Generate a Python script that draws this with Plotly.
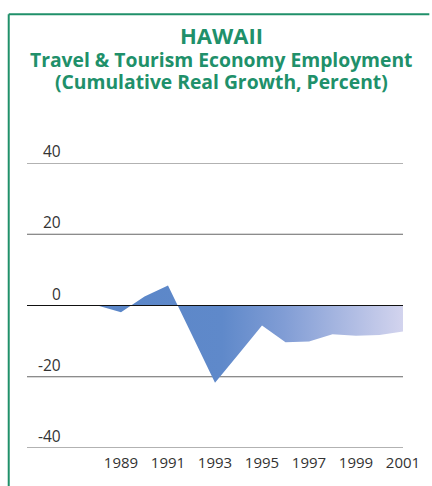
import plotly.graph_objects as go

# Cumulative real growth of travel & tourism economy employment, Hawaii (%)
years = [1988, 1989, 1990, 1991, 1992, 1993, 1994, 1995, 1996, 1997, 1998, 1999, 2000, 2001]
growth = [0.0, -1.9, 2.5, 5.6, -8.0, -21.7, -13.7, -5.6, -10.3, -10.1, -8.1, -8.5, -8.3, -7.3]

x_ticks = [1989, 1991, 1993, 1995, 1997, 1999, 2001]
y_ticks = [40, 20, 0, -20, -40]

GREEN = "#20906a"
TEXT = "#333333"
FONT = "Open Sans"

fig = go.Figure()

fig.add_trace(go.Scatter(
    x=years, y=growth,
    mode="lines",
    line=dict(width=0, color="#5b87c9"),
    fill="tozeroy",
    fillgradient=dict(
        type="horizontal",
        start=1988, stop=2001,
        colorscale=[[0.0, "#5a86c8"], [0.4, "#5f89ca"], [0.6, "#819dd5"], [1.0, "#d6d6ef"]],
    ),
    hoverinfo="skip",
    showlegend=False,
))

# horizontal reference lines
for v in y_ticks:
    fig.add_shape(type="line", xref="x", yref="y", x0=1985, x1=2001, y0=v, y1=v,
                  line=dict(color="#111111" if v == 0 else "#666666", width=1.2),
                  layer="below" if v != 0 else "above")

# value labels sitting above each reference line
for v in y_ticks:
    fig.add_annotation(x=1986.55, y=v, xref="x", yref="y", text=str(v),
                       showarrow=False, xanchor="right", yanchor="middle", yshift=12,
                       font=dict(family=FONT, size=15.5, color=TEXT))

# titles
fig.add_annotation(x=0.518, y=1.45, xref="paper", yref="paper", text="<b>HAWAII</b>",
                   showarrow=False, xanchor="center", yanchor="middle",
                   font=dict(family=FONT, size=22, color=GREEN))
fig.add_annotation(x=0.518, y=1.362, xref="paper", yref="paper",
                   text="<b>Travel & Tourism Economy Employment</b>",
                   showarrow=False, xanchor="center", yanchor="middle",
                   font=dict(family=FONT, size=19.3, color=GREEN))
fig.add_annotation(x=0.518, y=1.2855, xref="paper", yref="paper",
                   text="<b>(Cumulative Real Growth, Percent)</b>",
                   showarrow=False, xanchor="center", yanchor="middle",
                   font=dict(family=FONT, size=19.3, color=GREEN))

# frame on the left and top
fig.add_shape(type="line", xref="paper", yref="paper", x0=-0.0486, x1=1.07, y0=1.522, y1=1.522,
              line=dict(color=GREEN, width=2))
fig.add_shape(type="line", xref="paper", yref="paper", x0=-0.0486, x1=-0.0486, y0=1.522, y1=-0.14,
              line=dict(color=GREEN, width=2))

fig.update_layout(
    width=432, height=486,
    margin=dict(l=27, r=24, t=162.5, b=38),
    paper_bgcolor="white", plot_bgcolor="white",
    showlegend=False,
    xaxis=dict(range=[1985, 2001], tickvals=x_ticks, ticktext=[str(t) for t in x_ticks],
               showgrid=False, zeroline=False, showline=False, ticks="",
               tickfont=dict(family=FONT, size=15, color=TEXT), ticklabelstandoff=4,
               fixedrange=True),
    yaxis=dict(range=[-40, 40], showgrid=False, zeroline=False, showline=False,
               showticklabels=False, ticks="", fixedrange=True),
)

fig.write_html("out.html")
